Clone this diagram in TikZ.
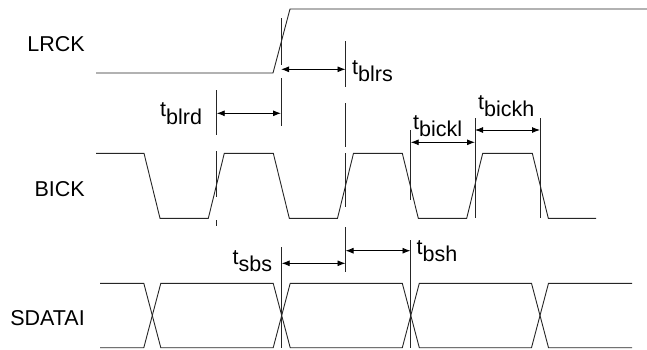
\documentclass[tikz,border=0pt]{standalone}
\usepackage{fontspec}
\setmainfont{Liberation Sans}
\usetikzlibrary{arrows.meta}
\tikzset{
  sig/.style={line width=0.9pt, draw=black!85, line join=miter},
  guide/.style={line width=0.9pt, draw=black!85},
  dim/.style={line width=0.9pt, draw=black, {Latex[length=8pt,width=6pt]}-{Latex[length=8pt,width=6pt]}},
  siglabel/.style={inner sep=0pt, anchor=base east, font=\fontsize{21.5}{24}\selectfont},
  tlabel/.style={inner sep=0pt, anchor=base west, font=\fontsize{21.5}{24}\selectfont}
}
\newcommand{\tsub}[1]{\raisebox{7.5pt}{t}#1}
\begin{document}
\begin{tikzpicture}[x=1pt,y=-1pt]
\useasboundingbox (0,0) rectangle (647,349);
% signal labels
\node[siglabel] (lrck) at (85,51.7) {LRCK};
\node[siglabel] (bick) at (85,196) {BICK};
\node[siglabel] (sdatai) at (85,325) {SDATAI};
% LRCK waveform
\draw[sig] (96,73) -- (273,73) -- (290,9) -- (647,9);
% BICK waveform
\draw[sig] (96,153.3) -- (144,153.3) -- (160,218.3) -- (208.3,218.3) -- (224.3,153.3)
  -- (273.3,153.3) -- (289.3,218.3) -- (337.5,218.3) -- (353.5,153.3)
  -- (402.3,153.3) -- (418.3,218.3) -- (466.7,218.3) -- (482.7,153.3)
  -- (532.3,153.3) -- (548.3,218.3) -- (596,218.3);
% SDATAI waveform
\def\Top{283.3}\def\Bot{347.7}
\draw[sig] (100,\Top) -- (143.8,\Top) -- (160.8,\Bot) -- (273.2,\Bot) -- (290.2,\Top)
  -- (402.3,\Top) -- (419.3,\Bot) -- (531.5,\Bot) -- (548.5,\Top) -- (632,\Top);
\draw[sig] (100,\Bot) -- (143.8,\Bot) -- (160.8,\Top) -- (273.2,\Top) -- (290.2,\Bot)
  -- (402.3,\Bot) -- (419.3,\Top) -- (531.5,\Top) -- (548.5,\Bot) -- (632,\Bot);
% guide lines
\draw[guide] (281,18) -- (281,65);
\draw[guide] (281,78) -- (281,126);
\draw[guide] (345.5,41) -- (345.5,87);
\draw[guide] (345.5,103) -- (345.5,147);
\draw[guide] (345.5,153) -- (345.5,207);
\draw[guide] (345.5,227) -- (345.5,272);
\draw[guide] (216.7,90) -- (216.7,135);
\draw[guide] (216.7,151) -- (216.7,197);
\draw[guide] (216.7,220) -- (216.7,226);
\draw[guide] (410.7,130) -- (410.7,200);
\draw[guide] (475,118) -- (475,218.3);
\draw[guide] (540,118) -- (540,218.3);
\draw[guide] (281.7,247) -- (281.7,348);
\draw[guide] (410.5,240) -- (410.5,348);
% dimension end points
\coordinate (blrsA) at (281,69.3);
\coordinate (blrsB) at (345.5,69.3);
\coordinate (blrdA) at (216.7,113.3);
\coordinate (blrdB) at (281,113.3);
\coordinate (bicklA) at (410.7,142.3);
\coordinate (bicklB) at (475,142.3);
\coordinate (bickhA) at (475,130);
\coordinate (bickhB) at (540,130);
\coordinate (sbsA) at (281.7,263.3);
\coordinate (sbsB) at (345.5,263.3);
\coordinate (bshA) at (345.5,250.7);
\coordinate (bshB) at (410.5,250.7);
\draw[dim] (blrsA) -- (blrsB);
\draw[dim] (blrdA) -- (blrdB);
\draw[dim] (bicklA) -- (bicklB);
\draw[dim] (bickhA) -- (bickhB);
\draw[dim] (sbsA) -- (sbsB);
\draw[dim] (bshA) -- (bshB);
% timing labels
\node[tlabel] (tblrs) at (352,81.7) {\tsub{blrs}};
\node[tlabel] (tblrd) at (160,124.3) {\tsub{blrd}};
\node[tlabel] (tbickl) at (413,136.7) {\tsub{bickl}};
\node[tlabel] (tbickh) at (478,116.7) {\tsub{bickh}};
\node[tlabel] (tsbs) at (232.5,271.7) {\tsub{sbs}};
\node[tlabel] (tbsh) at (416.5,261.7) {\tsub{bsh}};
\end{tikzpicture}
\end{document}
